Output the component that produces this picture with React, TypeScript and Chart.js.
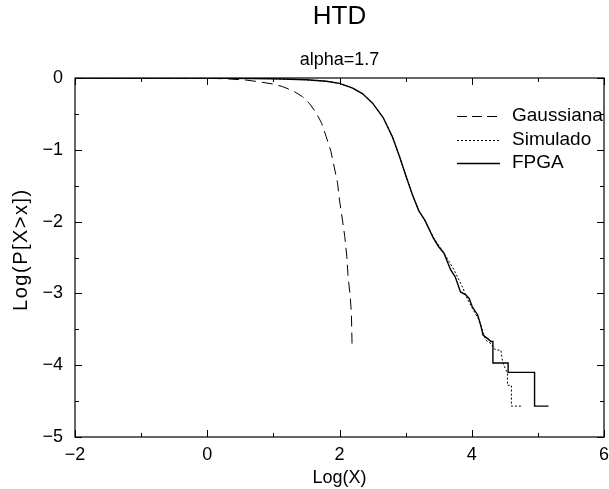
import React, { useEffect, useRef } from "react";
import { Chart, registerables } from "chart.js";
Chart.register(...registerables);

const titleText = "HTD";
const subtitleText = "alpha=1.7";
const xTitle = "Log(X)";
const yTitle = "Log(P[X>x])";
const xTickValues = [-2, 0, 2, 4, 6];
const yTickValues = [0, -1, -2, -3, -4, -5];
const legendLabels = ["Gaussiana", "Simulado", "FPGA"];

const gaussX = [-2, -1, 0, 0.3, 0.6, 0.8, 1.0, 1.14, 1.3, 1.44, 1.55, 1.65, 1.73, 1.8, 1.87, 1.92, 1.97, 2.0, 2.04, 2.08, 2.11, 2.13, 2.16, 2.18, 2.19];
const gaussY = [0, 0, -0.003, -0.012, -0.03, -0.055, -0.085, -0.12, -0.18, -0.26, -0.36, -0.49, -0.63, -0.82, -1.02, -1.24, -1.46, -1.7, -1.95, -2.21, -2.48, -2.77, -3.02, -3.28, -3.72];

const fpgaX = [-2, 0, 1.0, 1.5, 1.8, 2.0, 2.2, 2.35, 2.5, 2.66, 2.8, 2.91, 3.0, 3.1, 3.2, 3.29, 3.42, 3.5, 3.58, 3.68, 3.75, 3.83, 3.91, 3.96, 4.01, 4.09, 4.14, 4.17, 4.24, 4.29, 4.32, 4.32, 4.55, 4.55, 4.95, 4.95, 5.16];
const fpgaY = [0, -0.001, -0.01, -0.025, -0.045, -0.075, -0.14, -0.22, -0.35, -0.55, -0.82, -1.1, -1.35, -1.62, -1.85, -1.98, -2.23, -2.35, -2.44, -2.67, -2.77, -2.98, -3.02, -3.07, -3.19, -3.3, -3.46, -3.58, -3.63, -3.67, -3.67, -3.97, -3.97, -4.1, -4.1, -4.57, -4.57];

const simX = [-2, 0, 1.0, 1.5, 1.8, 2.0, 2.2, 2.35, 2.5, 2.66, 2.8, 2.91, 3.0, 3.1, 3.2, 3.29, 3.42, 3.5, 3.6, 3.73, 3.86, 3.93, 4.01, 4.11, 4.17, 4.21, 4.29, 4.36, 4.44, 4.47, 4.54, 4.54, 4.6, 4.6, 4.75];
const simY = [0, -0.001, -0.01, -0.025, -0.045, -0.075, -0.14, -0.22, -0.35, -0.55, -0.82, -1.1, -1.35, -1.62, -1.85, -1.98, -2.22, -2.33, -2.47, -2.67, -2.91, -3.07, -3.21, -3.37, -3.53, -3.65, -3.7, -3.79, -3.79, -3.97, -4.11, -4.28, -4.28, -4.57, -4.57];

const FONT = "'Liberation Sans', Arial, Helvetica, sans-serif";

const toPts = (xs: number[], ys: number[]) => xs.map((x, i) => ({ x, y: ys[i] }));
const fmt = (v: number) => (v < 0 ? "\u2212" + Math.abs(v) : String(v));

const dashes: number[][] = [[11, 6], [2, 2], []];
const widths = [1, 1, 1.4];

const decorPlugin = {
  id: "decor",
  afterDraw(chart: any) {
    const { ctx, chartArea: a, scales } = chart;
    const xs = scales.x;
    const ys = scales.y;
    ctx.save();
    // border
    ctx.strokeStyle = "#000";
    ctx.lineWidth = 1.2;
    ctx.setLineDash([]);
    ctx.strokeRect(a.left, a.top, a.right - a.left, a.bottom - a.top);
    // ticks
    ctx.lineWidth = 1;
    ctx.beginPath();
    for (let v = -2; v <= 6; v += 1) {
      const len = v % 2 === 0 ? 7 : 4;
      const px = Math.round(xs.getPixelForValue(v)) + 0.5;
      ctx.moveTo(px, a.bottom);
      ctx.lineTo(px, a.bottom - len);
      ctx.moveTo(px, a.top);
      ctx.lineTo(px, a.top + len);
    }
    for (let v = -5; v <= 0; v += 0.5) {
      const len = Number.isInteger(v) ? 7 : 4;
      const py = Math.round(ys.getPixelForValue(v)) + 0.5;
      ctx.moveTo(a.left, py);
      ctx.lineTo(a.left + len, py);
      ctx.moveTo(a.right, py);
      ctx.lineTo(a.right - len, py);
    }
    ctx.stroke();

    // titles
    ctx.fillStyle = "#000";
    ctx.textAlign = "center";
    ctx.textBaseline = "middle";
    const cx = (a.left + a.right) / 2;
    ctx.font = `26px ${FONT}`;
    ctx.fillText(titleText, cx, 17);
    ctx.font = `18px ${FONT}`;
    ctx.fillText(subtitleText, cx, 60);
    ctx.fillText(xTitle, cx, 478);
    ctx.save();
    ctx.translate(21, ys.getPixelForValue(-2.4));
    ctx.rotate(-Math.PI / 2);
    ctx.font = `20px ${FONT}`;
    try { (ctx as any).letterSpacing = "1.5px"; } catch (e) {}
    ctx.fillText(yTitle, 0.75, 0);
    try { (ctx as any).letterSpacing = "0px"; } catch (e) {}
    ctx.restore();

    // legend
    const rows = [116, 140, 163];
    ctx.save();
    ctx.beginPath();
    ctx.rect(a.left, a.top, a.right - a.left - 1, a.bottom - a.top);
    ctx.clip();
    legendLabels.forEach((lab, i) => {
      ctx.strokeStyle = "#000";
      ctx.lineWidth = widths[i];
      ctx.setLineDash(i === 0 ? [10, 5] : dashes[i]);
      ctx.beginPath();
      ctx.moveTo(457, rows[i] + 0.5);
      ctx.lineTo(500, rows[i] + 0.5);
      ctx.stroke();
      ctx.setLineDash([]);
      ctx.textAlign = "left";
      ctx.font = `19px ${FONT}`;
      ctx.fillText(lab, 512, rows[i]);
    });
    ctx.restore();
    ctx.restore();
  },
};

export default function App() {
  const ref = useRef<HTMLCanvasElement>(null);
  useEffect(() => {
    document.body.style.margin = "0";
    const sets = [
      { label: legendLabels[0], data: toPts(gaussX, gaussY) },
      { label: legendLabels[1], data: toPts(simX, simY) },
      { label: legendLabels[2], data: toPts(fpgaX, fpgaY) },
    ].map((d, i) => ({
      ...d,
      showLine: true,
      pointRadius: 0,
      borderColor: "#000",
      backgroundColor: "#000",
      borderWidth: widths[i],
      borderDash: dashes[i],
      tension: 0,
      fill: false,
    }));
    const chart = new Chart(ref.current as HTMLCanvasElement, {
      type: "scatter",
      data: { datasets: sets as any },
      options: {
        animation: false,
        responsive: false,
        layout: { padding: { top: 78, right: 5, left: 0, bottom: 0 } },
        plugins: { legend: { display: false }, title: { display: false }, tooltip: { enabled: false } },
        scales: {
          x: {
            type: "linear",
            min: -2,
            max: 6,
            afterBuildTicks: (s: any) => { s.ticks = xTickValues.map((v) => ({ value: v })); },
            afterFit: (s: any) => { s.height = 52; s.paddingLeft = 0; s.paddingRight = 0; },
            grid: { display: false, drawTicks: false },
            border: { display: false },
            ticks: { padding: 7, color: "#000", font: { family: FONT, size: 18 }, callback: (v: any) => fmt(Number(v)), maxRotation: 0, autoSkip: false },
          },
          y: {
            type: "linear",
            min: -5,
            max: 0,
            afterBuildTicks: (s: any) => { s.ticks = yTickValues.map((v) => ({ value: v })); },
            afterFit: (s: any) => { s.width = 75; s.paddingTop = 0; s.paddingBottom = 0; },
            grid: { display: false, drawTicks: false },
            border: { display: false },
            ticks: { padding: 12, color: "#000", font: { family: FONT, size: 18 }, callback: (v: any) => fmt(Number(v)), autoSkip: false },
          },
        },
      },
      plugins: [decorPlugin],
    });
    return () => chart.destroy();
  }, []);
  return (
    <div style={{ width: 609, height: 489 }}>
      <canvas ref={ref} width={609} height={489} style={{ display: "block" }} />
    </div>
  );
}
